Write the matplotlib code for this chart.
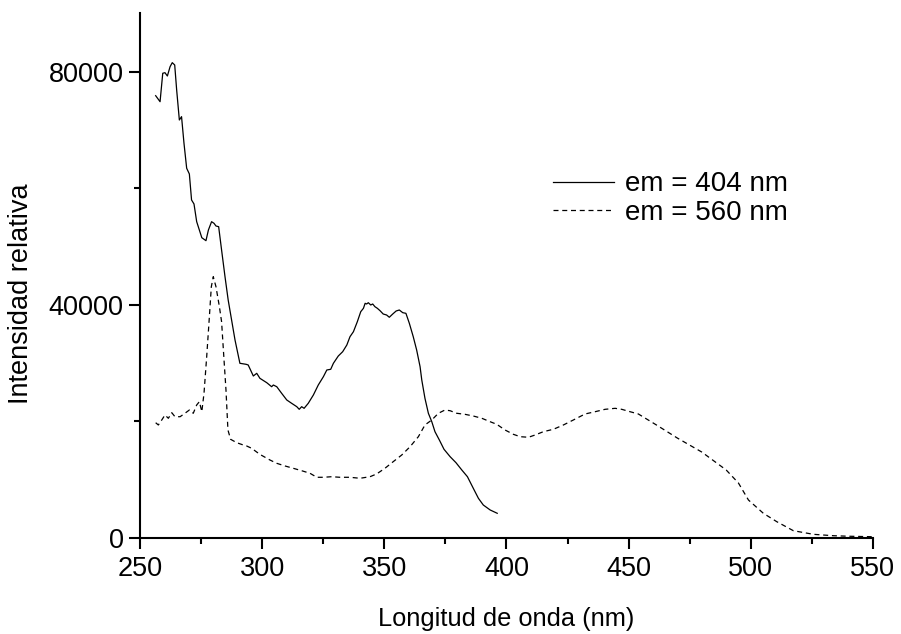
import matplotlib
matplotlib.use("Agg")
import matplotlib.pyplot as plt
from matplotlib.ticker import MultipleLocator

plt.rcParams['font.family'] = ['Liberation Sans', 'DejaVu Sans']

# em = 404 nm (solid)
wl_404 = [256.3, 258.1, 259.2, 260.1, 261.1, 262.2, 263.1, 264.1, 264.9, 266.0, 266.9, 267.9,
          269.0, 270.1, 271.0, 272.0, 273.1, 275.2, 276.9, 277.9, 279.2, 280.2, 281.0, 282.1,
          283.3, 284.7, 286.0, 288.8, 290.8, 293.3, 294.2, 296.3, 297.7, 299.0, 301.8, 303.8,
          304.5, 305.9, 307.9, 310.0, 312.0, 314.1, 315.1, 316.1, 317.1, 318.8, 320.9, 322.9,
          325.0, 326.4, 328.0, 329.1, 331.1, 332.9, 334.6, 335.9, 337.3, 338.9, 340.3, 341.4,
          342.1, 342.7, 343.4, 344.4, 345.2, 346.1, 347.1, 348.2, 349.5, 350.9, 352.0, 353.4,
          354.8, 356.1, 357.5, 358.8, 360.2, 361.8, 363.2, 364.6, 365.3, 366.6, 368.0, 369.4,
          370.7, 372.5, 374.4, 376.9, 379.3, 381.7, 384.0, 386.4, 388.5, 390.5, 393.3, 396.2]
int_404 = [75880, 74850, 79730, 79830, 79260, 80860, 81550, 81150, 76860, 71710, 72280, 67710,
           63420, 62440, 57980, 57290, 54250, 51500, 50990, 52820, 54250, 53970, 53510, 53390,
           49390, 44810, 40810, 33940, 29940, 29770, 29650, 27760, 28220, 27360, 26610, 25920,
           26210, 25920, 24790, 23640, 23070, 22490, 22040, 22490, 22210, 23070, 24500, 26210,
           27640, 28790, 28910, 29940, 31190, 31930, 33080, 34510, 35360, 37080, 38800, 39380,
           40240, 40120, 40340, 39950, 40120, 39660, 39380, 38970, 38400, 38230, 37840, 38400,
           38920, 39090, 38630, 38520, 36810, 34510, 32220, 29360, 27070, 23930, 21360, 19910,
           18200, 16770, 15180, 13910, 12880, 11620, 10470, 8480, 6760, 5610, 4760, 4190]

# em = 560 nm (dashed)
wl_560 = [256.3, 257.4, 258.8, 260.1, 261.5, 262.9, 264.2, 266.3, 268.3, 270.1, 271.7, 273.1,
          274.2, 275.2, 276.1, 277.2, 278.3, 279.1, 279.9, 281.0, 282.4, 283.3, 284.3, 285.1,
          285.9, 287.0, 289.5, 292.2, 293.6, 295.6, 299.0, 303.1, 305.9, 309.3, 312.7, 316.1,
          319.5, 322.3, 325.0, 328.4, 331.8, 335.9, 340.0, 344.1, 346.8, 350.2, 353.6, 357.1,
          360.5, 363.9, 366.6, 369.4, 372.1, 374.8, 376.9, 379.6, 383.0, 386.4, 389.9, 393.3,
          396.0, 399.4, 402.8, 405.6, 409.0, 411.7, 415.1, 419.2, 423.3, 427.4, 432.2, 436.3,
          440.4, 444.5, 447.2, 450.6, 454.0, 462.0, 470.0, 480.0, 490.0, 495.0, 499.1, 505.2,
          510.7, 517.5, 525.7, 533.9, 540.0, 549.6]
int_560 = [19740, 19350, 20210, 21060, 20500, 21460, 20770, 20770, 21360, 21920, 21360, 22780,
           23350, 21630, 24790, 31070, 37940, 43090, 44810, 43090, 39660, 37080, 30510, 25360,
           18490, 16890, 16310, 15910, 15740, 15350, 14300, 13340, 12770, 12310, 11910, 11500,
           11060, 10370, 10370, 10470, 10370, 10370, 10200, 10470, 10940, 11910, 13050, 14200,
           15620, 17340, 19350, 20210, 21360, 21920, 21800, 21360, 21180, 20890, 20500, 19910,
           19470, 18490, 17750, 17340, 17240, 17630, 18200, 18610, 19350, 20210, 21240, 21630,
           22040, 22210, 22040, 21630, 21240, 19200, 17100, 14700, 11620, 9390, 6470, 4190,
           2750, 1200, 580, 340, 250, 170]

legend_labels = ["em = 404 nm", "em = 560 nm"]
x_label = "Longitud de onda (nm)"
y_label = "Intensidad relativa"

fig = plt.figure(figsize=(9.01, 6.34), dpi=100)
ax = fig.add_axes([0.1557, 0.1519, 0.8129, 0.8269])

ax.plot(wl_404, int_404, color='black', lw=0.9, label=legend_labels[0])
ax.plot(wl_560, int_560, color='black', lw=0.9, linestyle=(0, (4, 3)), label=legend_labels[1])

ax.set_xlim(250, 550)
ax.set_ylim(0, 90000)
ax.xaxis.set_major_locator(MultipleLocator(50))
ax.xaxis.set_minor_locator(MultipleLocator(25))
ax.set_yticks([0, 40000, 80000])
ax.yaxis.set_minor_locator(MultipleLocator(20000))

for s in ['top', 'right']:
    ax.spines[s].set_visible(False)
for s in ['left', 'bottom']:
    ax.spines[s].set_linewidth(1.5)

ax.tick_params(which='major', direction='out', length=8, width=1.5, labelsize=19.5)
ax.tick_params(axis='x', which='major', pad=5)
ax.tick_params(axis='y', which='major', pad=4)
ax.tick_params(which='minor', direction='out', length=4, width=1.5)

ax.set_xlabel(x_label, fontsize=18.3, labelpad=18)
ax.set_ylabel(y_label, fontsize=19.5)
ax.yaxis.set_label_coords(-0.145, 0.465)

leg = ax.legend(loc='upper left', bbox_to_anchor=(0.548, 0.72), frameon=False, fontsize=20,
                handlelength=2.2, handletextpad=0.4, labelspacing=0.08, borderaxespad=0)

fig.savefig("out.png", dpi=100)
